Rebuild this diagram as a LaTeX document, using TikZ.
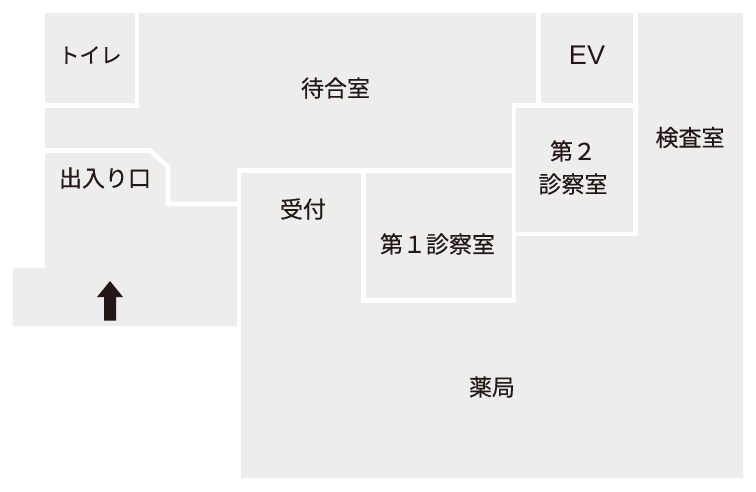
\documentclass[tikz,border=0pt]{standalone}
\usepackage{fontspec}
\setmainfont{Noto Sans CJK JP}[RawFeature={embolden=0.35}]
\newfontfamily\evfont{Liberation Sans}
\definecolor{floorgrey}{HTML}{EDEDED}
\definecolor{ink}{HTML}{231815}
\tikzset{
  wall/.style={draw=white,line width=4.6pt,line cap=butt,line join=miter},
  room/.style={text=ink,font=\fontsize{23}{27}\selectfont,inner sep=0pt,align=center}
}
\begin{document}
\begin{tikzpicture}[x=1pt,y=-1pt]
\useasboundingbox (0,0) rectangle (756,492);
\fill[floorgrey] (45,13) -- (743,13) -- (743,478) -- (241,478) -- (241,326) -- (13,326) -- (13,268) -- (45,268) -- cycle;
% walls
\draw[wall] (137,13) -- (137,105.3) -- (45,105.3);
\draw[wall] (45,150.5) -- (150.5,150.5) -- (168,167) -- (168,204) -- (239,204);
\draw[wall] (239,330) -- (239,170.3) -- (514,170.3);
\draw[wall] (363.3,170.3) -- (363.3,300.7) -- (514,300.7);
\draw[wall] (514,303) -- (514,105.3) -- (635.6,105.3);
\draw[wall] (538.5,13) -- (538.5,105.3);
\draw[wall] (635.6,13) -- (635.6,234) -- (514,234);
% labels
\node[room,font=\fontsize{21}{27}\selectfont] (toilet) at (90,55) {トイレ};
\node[room] (wait) at (335.5,88) {待合室};
\node[room,font=\evfont\fontsize{27}{27}\selectfont] (ev) at (587,55) {EV};
\node[room] (exam) at (690,137.5) {検査室};
\node[room] (room2a) at (573,151) {第２};
\node[room] (room2b) at (573,184) {診察室};
\node[room] (room1) at (437.5,244) {第１診察室};
\node[room] (entry) at (105,178) {出入り口};
\node[room] (recep) at (303,209) {受付};
\node[room] (pharm) at (492,387) {薬局};
\fill[ink] (110,281) -- (123,297) -- (116,297) -- (116,320.5) -- (104,320.5) -- (104,297) -- (97,297) -- cycle;
\end{tikzpicture}
\end{document}
